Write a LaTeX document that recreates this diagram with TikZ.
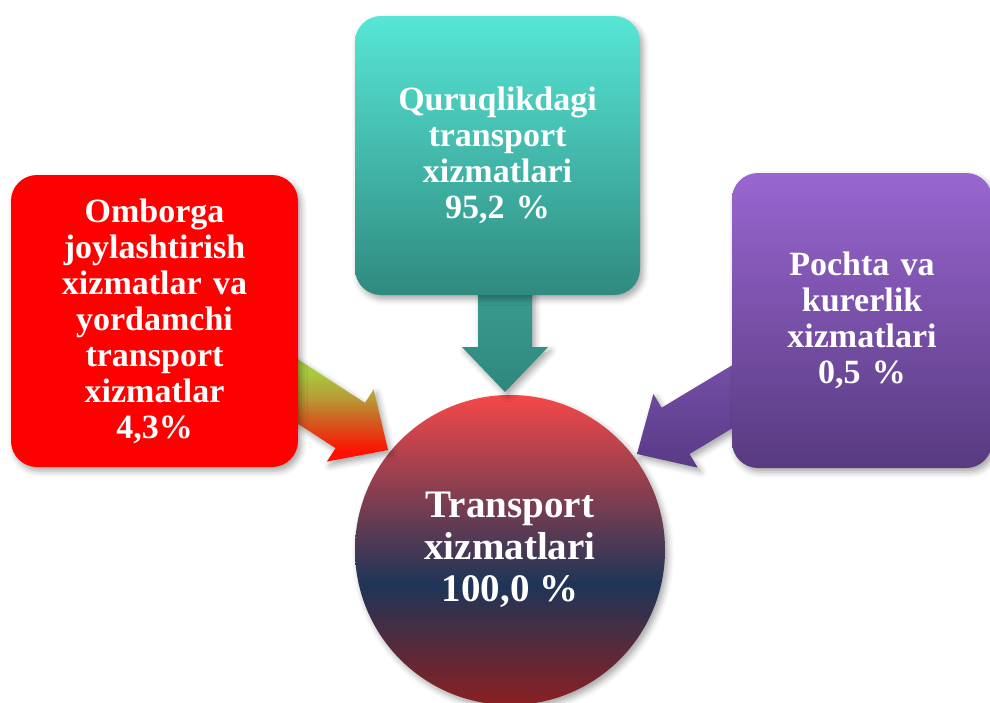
\documentclass[tikz,border=0pt]{standalone}
\usepackage{fontspec}
\setmainfont{Liberation Serif}
\usetikzlibrary{calc, shadows.blur}

\definecolor{omborred}{HTML}{FF0000}
\definecolor{quruqtop}{HTML}{57E6D6}
\definecolor{quruqbot}{HTML}{2F8A7F}
\definecolor{pochtatop}{HTML}{9966D0}
\definecolor{pochtabot}{HTML}{573A80}
\definecolor{hubtop}{HTML}{F54848}
\definecolor{hubmid}{HTML}{1E3558}
\definecolor{hubbot}{HTML}{8A2022}
\definecolor{ombarr1}{HTML}{A8CC40}
\definecolor{ombarr2}{HTML}{B89A35}
\definecolor{ombarr3}{HTML}{CC6A25}
\definecolor{ombarr4}{HTML}{E63A12}
\definecolor{ombarr5}{HTML}{FF1000}
\definecolor{qurarrtop}{HTML}{3EA498}
\definecolor{qurarrbot}{HTML}{2F877C}
\definecolor{pocarrtop}{HTML}{7A52AC}
\definecolor{pocarrbot}{HTML}{583A86}

% shading of the circle: red - navy - dark red
\pgfdeclareverticalshading{hubshade}{100bp}{color(0bp)=(hubbot); color(25bp)=(hubbot);
  color(44.5bp)=(hubmid); color(75bp)=(hubtop); color(100bp)=(hubtop)}
% shading of the left arrow: green - orange - red
\pgfdeclareverticalshading{ombshade}{100bp}{color(0bp)=(ombarr5); color(29bp)=(ombarr5);
  color(36bp)=(ombarr4); color(44bp)=(ombarr3); color(51bp)=(ombarr2); color(62bp)=(ombarr1); color(100bp)=(ombarr1)}

% block arrow: start, tip, style
\newcommand{\blokarrow}[3]{%
  \coordinate (#1-h) at ($(#2)!45pt!(#1)$);
  \path[#3] ($(#1)!27pt!90:(#2)$) -- ($(#1-h)!27pt!90:(#2)$) -- ($(#1-h)!43pt!90:(#2)$)
    -- (#2) -- ($(#1-h)!43pt!-90:(#2)$) -- ($(#1-h)!27pt!-90:(#2)$) -- ($(#1)!27pt!-90:(#2)$) -- cycle;
}

\tikzset{
  softshadow/.style={blur shadow={shadow xshift=3pt, shadow yshift=-4pt, shadow blur radius=6pt, shadow opacity=35}},
  box/.style={rectangle, rounded corners=26pt, text=white, align=center, inner sep=0pt,
    font=\bfseries\fontsize{34}{36}\selectfont, softshadow},
}

\begin{document}
\begin{tikzpicture}[x=1pt, y=-1pt]
    \useasboundingbox (0,0) rectangle (990,702);

    % Markaz
    \node[circle, minimum size=310pt, inner sep=0pt, shading=hubshade, text=white, align=center,
      font=\bfseries\fontsize{39}{42}\selectfont, softshadow] (transport) at (510,550)
      {Transport\\xizmatlari\\100,0 \%};

    % Strelkalar
    \coordinate (omb-s) at (254,363);
    \coordinate (omb-t) at (388,450);
    \coordinate (qur-s) at (505,250);
    \coordinate (qur-t) at (505,392);
    \coordinate (poc-s) at (775,371);
    \coordinate (poc-t) at (637,454);
    \blokarrow{omb-s}{omb-t}{shading=ombshade, softshadow}
    \blokarrow{qur-s}{qur-t}{top color=qurarrtop, bottom color=qurarrbot, softshadow}
    \blokarrow{poc-s}{poc-t}{top color=pocarrtop, bottom color=pocarrbot, softshadow}

    % Bloklar
    \node[box, fill=omborred, minimum width=287pt, minimum height=292pt, text width=280pt] (ombor) at (154.5,321)
      {Omborga\\joylashtirish\\xizmatlar va\\yordamchi\\transport\\xizmatlar\\4,3\%};
    \node[box, top color=quruqtop, bottom color=quruqbot, minimum width=285pt, minimum height=279pt, text width=280pt] (quruq) at (497.5,155.5)
      {Quruqlikdagi\\transport\\xizmatlari\\95,2 \%};
    \node[box, top color=pochtatop, bottom color=pochtabot, minimum width=260pt, minimum height=295pt, text width=250pt] (pochta) at (862,320.5)
      {Pochta va\\kurerlik\\xizmatlari\\0,5 \%};

\end{tikzpicture}
\end{document}
